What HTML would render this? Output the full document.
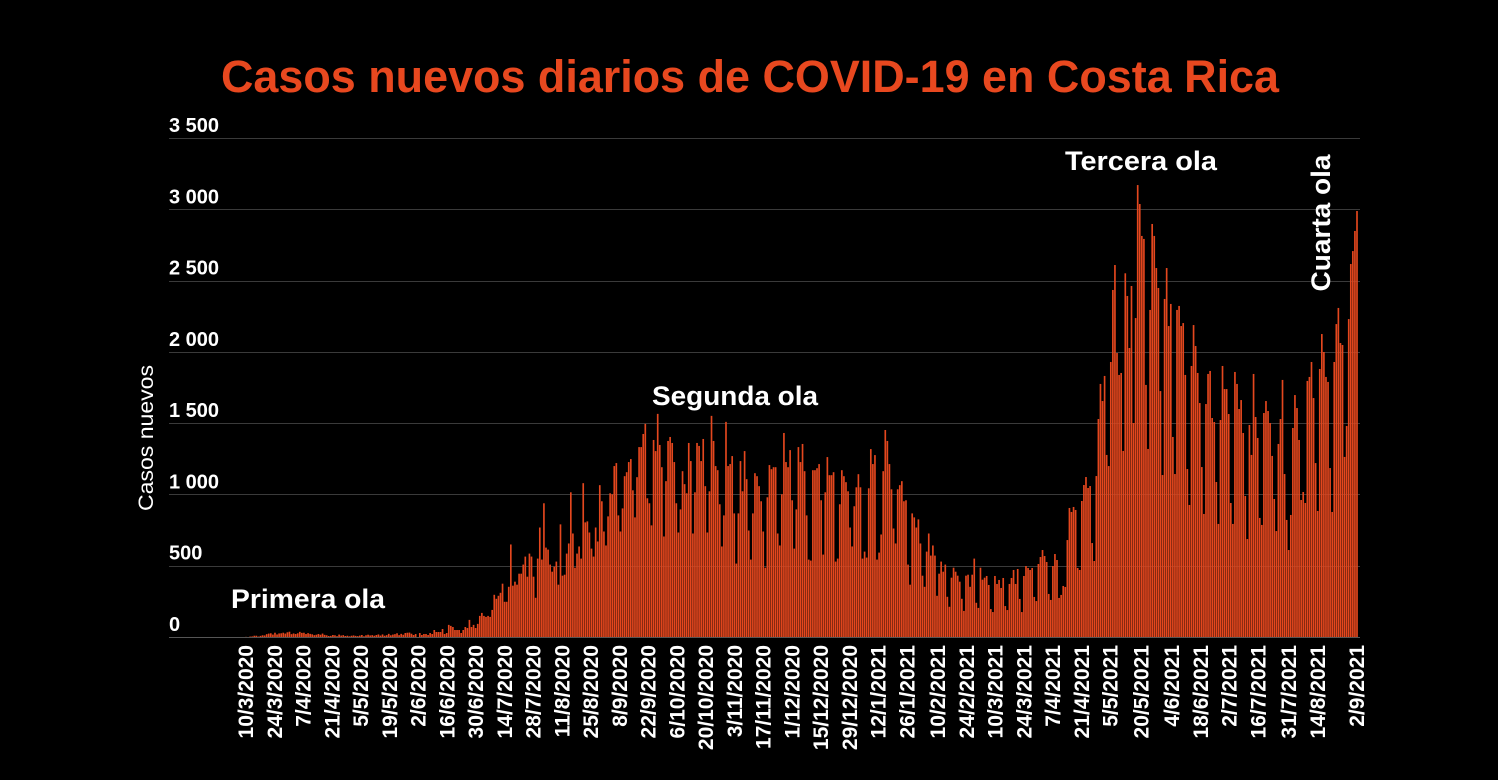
<!DOCTYPE html>
<html><head><meta charset="utf-8"><style>
html,body{margin:0;padding:0;background:#000;}
svg{display:block;}
text{font-family:"Liberation Sans",sans-serif;}
</style></head><body>
<svg id="chart" width="1498" height="780" viewBox="0 0 1498 780">
<rect x="0" y="0" width="1498" height="780" fill="#000"/>
<text x="750" y="92" text-anchor="middle" font-size="45" font-weight="bold" fill="#e8481f" textLength="1058" lengthAdjust="spacingAndGlyphs">Casos nuevos diarios de COVID-19 en Costa Rica</text>
<text transform="translate(153,438) rotate(-90)" text-anchor="middle" font-size="21" fill="#fff" textLength="146" lengthAdjust="spacingAndGlyphs">Casos nuevos</text>
<g id="grid"></g>
<g id="bars"></g>
<g id="xlabels"></g>
<text x="308" y="608" text-anchor="middle" font-size="27" font-weight="bold" fill="#fff" textLength="154" lengthAdjust="spacingAndGlyphs">Primera ola</text>
<text x="735" y="405" text-anchor="middle" font-size="27" font-weight="bold" fill="#fff" textLength="166" lengthAdjust="spacingAndGlyphs">Segunda ola</text>
<text x="1141" y="170" text-anchor="middle" font-size="27" font-weight="bold" fill="#fff" textLength="152" lengthAdjust="spacingAndGlyphs">Tercera ola</text>
<text transform="translate(1330,223) rotate(-90)" text-anchor="middle" font-size="27" font-weight="bold" fill="#fff" textLength="137" lengthAdjust="spacingAndGlyphs">Cuarta ola</text>
</svg>
<script>
const yTicks = [0, 500, 1000, 1500, 2000, 2500, 3000, 3500];
const yTickLabels = ["0", "500", "1 000", "1 500", "2 000", "2 500", "3 000", "3 500"];
const xTickLabels = ["10/3/2020","24/3/2020","7/4/2020","21/4/2020","5/5/2020","19/5/2020","2/6/2020","16/6/2020","30/6/2020","14/7/2020","28/7/2020","11/8/2020","25/8/2020","8/9/2020","22/9/2020","6/10/2020","20/10/2020","3/11/2020","17/11/2020","1/12/2020","15/12/2020","29/12/2020","12/1/2021","26/1/2021","10/2/2021","24/2/2021","10/3/2021","24/3/2021","7/4/2021","21/4/2021","5/5/2021","20/5/2021","4/6/2021","18/6/2021","2/7/2021","16/7/2021","31/7/2021","14/8/2021","2/9/2021"];
const cases1 = [1,0,3,4,9,9,3,8,12,11,20,24,26,17,30,18,25,26,30,24,33,37,20,25,21,26,36,29,30,21,27,22,19,13,16,21,16,24,15,12,7,8,14,12,6,17,10,13,7,9,5,9,11,8,6,10,14,5,12,16,11,13,9,14,18,10,18,9,13,22,12,17,20,26,13,22,16,28,30,31,23];
const cases2 = [14,21,0,28,14,21,21,14,28,21,49,35,35,35,56,21,28,85,78,70,49,49,49,28,49,70,63,120,70,85,63,92,148,169,148,141,148,141,190,296,268,289,310,374,247,247,352,649,360,388,367,444,444,508,564,423,585,564,423,275,550,768,543,938,627,613,508,458,493,529,367,790,430,437,585,656,1015,726,486,585,635,550,1079,804,811,733,620,564,768,670,1065,952,740,642,846,1008];
const cases3 = [1001,1199,1220,853,740,902,1128,1156,1227,1248,1029,839,1121,1332,1332,1424,1495,973,938,783,1382,1304,1565,1347,1191,705,1093,1375,1403,1361,1227,938,733,895,1163,1072,1008,1361,1234,726,1015,1361,1340,1234,1389,1058,733,1022,1551,1375,1199,1170,931,635,853,1509,1199,1213,1269,867,515,867,1234,1022,1304,1107,747,543,867,1149,1128,1058,952,740,486,980,1206,1177,1191,1191,726,642,1001,1431,1227,1191,1311,959,620,895,1332];
const cases4 = [1227,1354,1163,853,543,536,1170,1170,1184,1213,959,578,1015,1262,1135,1135,1156,529,550,931,1170,1128,1086,1022,768,635,917,1050,1142,1050,550,599,557,1043,1318,1213,1276,543,592,719,1163,1452,1375,1213,1036,761,656,1036,1065,1093,952,959,508,367,867,839,768,825,656,430,352,599,726,571,642,571,289,444,529,458,508,282,212,416,486,458,430,388,268,183,430,437,352,437,550,240,204,486,402,416];
const cases5 = [428,365,196,175,428,372,400,344,414,217,189,372,414,470,372,477,267,175,428,498,484,470,484,281,252,512,561,610,568,526,302,260,498,582,540,274,295,358,351,680,905,877,912,891,484,470,954,1066,1122,1045,1059,659,533,1129,1529,1775,1655,1831,1277,1199,1929,2434,2609,1992,1838,1852,1305,2551,2392,2027,2462,1501,2237,3170,3037,2813,2792,1768,1319,2294,2897,2813,2588,2448,1725,1136,2371,2588,2181,2336];
const cases6 = [1403,1143,2294,2322,2181,2202,1838,1178,926,1901,2188,2041,1852,1641,1192,863,1634,1845,1866,1536,1508,1087,793,1522,1901,1739,1739,1564,940,793,1859,1775,1599,1662,1431,989,687,1487,1277,1845,1543,1396,835,786,1571,1655,1585,1501,1270,968,743,1354,1529,1803,1143,821,610,856,1466,1697,1606,1382,961,1017,940,1796,1824,1929,1676,1220,884,1880,2125,1999,1824,1789,1185,877,1929,2195,2308,2062,2048,1263,1480,2230,2616,2707,2848,2988];

const NS = "http://www.w3.org/2000/svg";
const cases = cases1.concat(cases2, cases3, cases4, cases5, cases6);
const X0 = 246, X1 = 1357, Y0 = 637, YTOP = 138, YMAX = 3500, GX0 = 169, GX1 = 1360;
function yScale(v){ return Y0 - v / YMAX * (Y0 - YTOP); }
function xScale(i, n){ return X0 + i / (n - 1) * (X1 - X0); }

const grid = document.getElementById('grid');
yTicks.forEach(function(t, k){
  const y = Math.round(yScale(t)) + 0.5;
  const ln = document.createElementNS(NS, 'line');
  ln.setAttribute('x1', GX0); ln.setAttribute('x2', GX1);
  ln.setAttribute('y1', y); ln.setAttribute('y2', y);
  ln.setAttribute('stroke', t === 0 ? '#555' : '#3a3a3a'); ln.setAttribute('stroke-width', '1');
  
  
  grid.appendChild(ln);
  const tx = document.createElementNS(NS, 'text');
  tx.setAttribute('x', 169); tx.setAttribute('y', yScale(t) - 6);
  tx.setAttribute('font-size', '20'); tx.setAttribute('font-weight', 'bold'); tx.setAttribute('fill', '#fff');
  tx.textContent = yTickLabels[k];
  
  
  grid.appendChild(tx);
});

const bars = document.getElementById('bars');
const n = cases.length;
const bw = (X1 - X0) / (n - 1);
cases.forEach(function(v, i){
  const r = document.createElementNS(NS, 'rect');
  const cx = xScale(i, n);
  r.setAttribute('x', (cx - bw * 0.4).toFixed(2));
  r.setAttribute('width', (bw * 0.8).toFixed(2));
  r.setAttribute('y', yScale(v).toFixed(2));
  r.setAttribute('height', Math.max(0, Y0 - yScale(v)).toFixed(2));
  r.setAttribute('fill', '#e4471e');
  
  
  bars.appendChild(r);
});

const start = new Date(2020, 2, 10);
const totalDays = Math.round((new Date(2021, 8, 2) - start) / 86400000);
const xl = document.getElementById('xlabels');
xTickLabels.forEach(function(s){
  const p = s.split('/');
  const d = new Date(+p[2], +p[1] - 1, +p[0]);
  const idx = Math.round((d - start) / 86400000);
  const x = X0 + idx / totalDays * (X1 - X0) + 7;
  const t = document.createElementNS(NS, 'text');
  t.setAttribute('transform', 'translate(' + x.toFixed(1) + ',645) rotate(-90)');
  t.setAttribute('text-anchor', 'end');
  t.setAttribute('font-size', '21'); t.setAttribute('font-weight', 'bold'); t.setAttribute('fill', '#fff');
  t.textContent = s;
  
  
  xl.appendChild(t);
});
</script>
</body></html>
